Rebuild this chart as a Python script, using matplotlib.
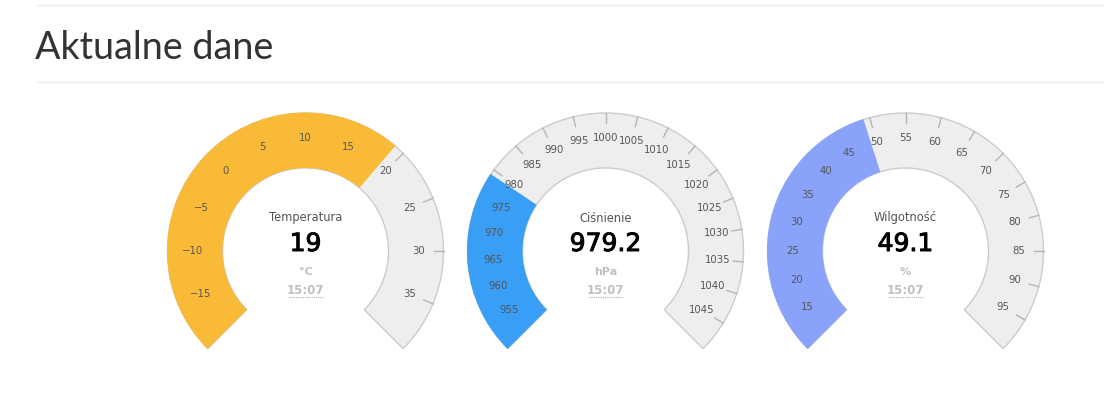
import numpy as np
import matplotlib.pyplot as plt
import matplotlib.patheffects as pe
from matplotlib.patches import Wedge

# dane
tytuly = ['Temperatura', 'Ciśnienie', 'Wilgotność']
wartosci = [19, 979.2, 49.1]
wartosci_txt = ['19', '979.2', '49.1']
jednostki = ['°C', 'hPa', '%']
czasy = ['15:07', '15:07', '15:07']
minima = [-20, 950, 10]
maksima = [40, 1050, 100]
kroki = [5, 5, 5]
kolory = ['#F9BA38', '#399EF5', '#89A3FB']

W, H = 1104, 399
fig = plt.figure(figsize=(W / 100, H / 100), dpi=100)
ax = fig.add_axes([0, 0, 1, 1])
ax.set_xlim(0, W)
ax.set_ylim(0, H)
ax.set_aspect('equal')
ax.axis('off')

def Y(py):
    return H - py

# naglowek
ax.plot([36, W], [Y(5), Y(5)], color='#eeeeee', lw=1)
ax.plot([36, W], [Y(82), Y(82)], color='#eeeeee', lw=1)
ax.text(35, Y(59), 'Aktualne dane', family='Lato', fontsize=27.2, color='#333333',
        ha='left', va='baseline')

srodki_x = [305.5, 605.5, 905.5]
cy = Y(251)
R, r_in = 138, 83

def kat(v, lo, hi):
    # kat zegarowy od gory -> kat matematyczny
    a = -135 + 270 * (v - lo) / (hi - lo)
    return 90 - a

for i in range(3):
    cx = srodki_x[i]
    lo, hi = minima[i], maksima[i]
    ax.add_patch(Wedge((cx, cy), R, -45, 225, width=R - r_in, fc='#eeeeee',
                       ec='#cccccc', lw=1, zorder=1))
    # podzialka
    for t in np.arange(lo + kroki[i], hi, kroki[i]):
        th = np.radians(kat(t, lo, hi))
        ax.plot([cx + 128 * np.cos(th), cx + R * np.cos(th)],
                [cy + 128 * np.sin(th), cy + R * np.sin(th)],
                color='#b5b5b5', lw=1, zorder=2)
    ax.add_patch(Wedge((cx, cy), R + 0.5, kat(wartosci[i], lo, hi), 225,
                       width=R + 0.5 - r_in, fc=kolory[i], ec='none', zorder=3))
    for t in np.arange(lo + kroki[i], hi, kroki[i]):
        th = np.radians(kat(t, lo, hi))
        ax.text(cx + 113 * np.cos(th), cy + 113 * np.sin(th),
                f'{t:g}'.replace('-', '\u2212'),
                ha='center', va='center', fontsize=7.3, color='#555555', zorder=4)
    # srodek
    ax.text(cx, Y(218), tytuly[i], ha='center', va='center', fontsize=8.3,
            color='#555555', zorder=4)
    ax.text(cx, Y(244), wartosci_txt[i], ha='center', va='center', fontsize=18,
            color='black', zorder=4,
            path_effects=[pe.withStroke(linewidth=0.7, foreground='black')])
    ax.text(cx, Y(272), jednostki[i], ha='center', va='center', fontsize=8,
            fontweight='bold', color='#c0c0c0', zorder=4)
    ax.text(cx, Y(290), czasy[i], ha='center', va='center', fontsize=8.5,
            fontweight='bold', color='#c0c0c0', zorder=4)
    ax.plot([cx - 17, cx + 17], [Y(297), Y(297)], color='#aaaaaa', lw=0.8,
            ls=(0, (1, 1)), zorder=4)

fig.savefig('out.png', dpi=100)
